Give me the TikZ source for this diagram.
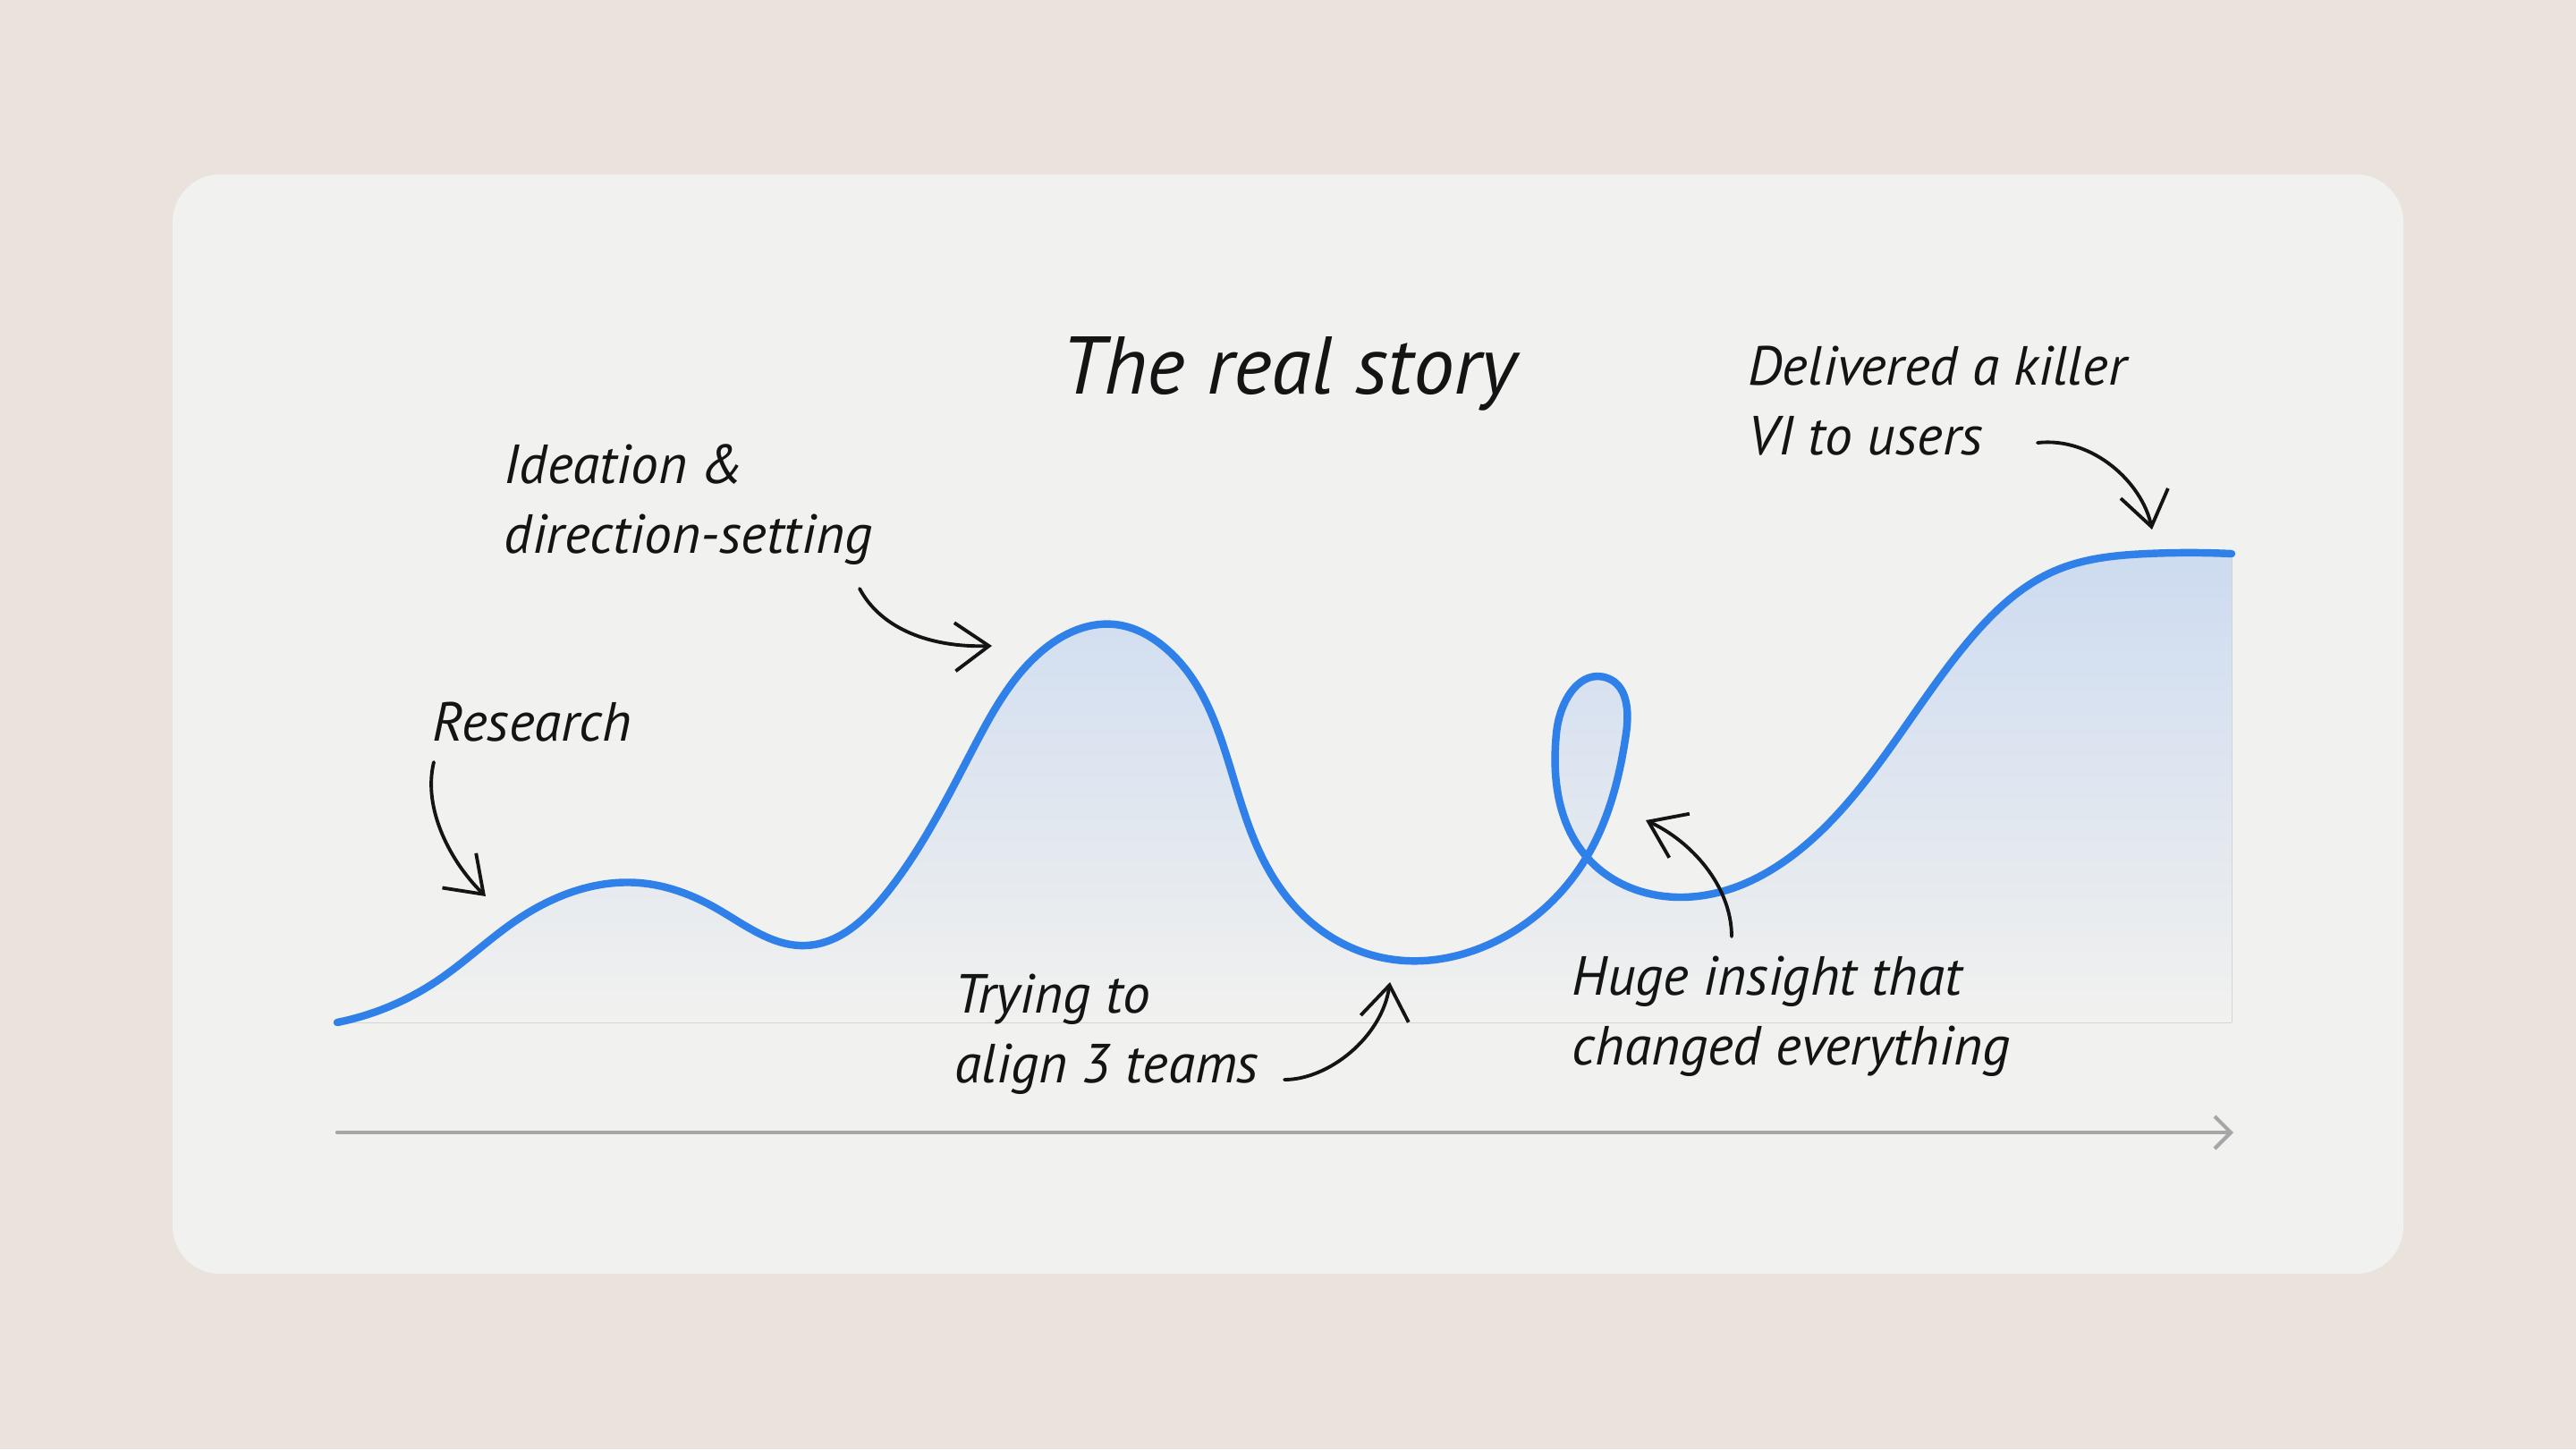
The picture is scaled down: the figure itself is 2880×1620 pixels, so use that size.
\documentclass[tikz,border=0pt]{standalone}
\usepackage{fontspec}
\setmainfont{PT Sans}
\usetikzlibrary{arrows.meta, positioning, calc, hobby}
\definecolor{pagebg}{HTML}{E9E2DD}
\definecolor{cardbg}{HTML}{F1F1EF}
\definecolor{storyblue}{HTML}{3080EA}
\definecolor{storyfill}{HTML}{CDDBF0}
\definecolor{axisgray}{HTML}{A6A6A6}
\definecolor{inkblack}{HTML}{141414}
\tikzset{
  storyline/.style={
    draw=storyblue, line width=2.4pt, line cap=round, line join=round
  },
  storyarea/.style={
    top color=storyfill, bottom color=cardbg, draw=none
  },
  storytitle/.style={
    font=\fontsize{26}{30}\selectfont\itshape, text=inkblack, inner sep=0pt
  },
  storynote/.style={
    font=\fontsize{17.5}{22}\selectfont\itshape, text=inkblack,
    align=left, inner sep=0pt, anchor=base west
  },
  pointer/.style={
    -{Straight Barb[length=3.8mm, width=5.4mm]}, line width=1.1pt,
    draw=inkblack, line cap=round
  },
  timeline/.style={
    -{Straight Barb[length=1.8mm, width=3.6mm]}, line width=1.2pt,
    draw=axisgray, line cap=round
  }
}

\begin{document}
\begin{tikzpicture}[x=0.01cm, y=-0.01cm]

  % Page and card
  \useasboundingbox (0,0) rectangle (2880,1620);
  \fill[pagebg] (0,0) rectangle (2880,1620);
  \fill[cardbg, rounded corners=0.53cm] (193,195) rectangle (2687,1424);

  % Area under the story curve
  \fill[storyarea] (377,1143) to[curve through={
    (488,1097) (580,1027) (715,987) (800,1015) (901,1057) (990,1000)
    (1090,833) (1160,732) (1246,698) (1300,722) (1407,950) (1468,1033)
    (1560,1073) (1662,1057) (1774,958) (1818,820) (1797,758) (1740,820)
    (1773,957) (1880,1003) (2045,920) (2198,720) (2300,637) (2400,619)
  }] (2495,619) -- (2495,1143) -- cycle;

  % Story curve
  \draw[storyline] (377,1143) to[curve through={
    (488,1097) (580,1027) (715,987) (800,1015) (901,1057) (990,1000)
    (1090,833) (1160,732) (1246,698) (1300,722) (1407,950) (1468,1033)
    (1560,1073) (1662,1057) (1774,958) (1818,820) (1797,758) (1740,820)
    (1773,957) (1880,1003) (2045,920) (2198,720) (2300,637) (2400,619)
  }] (2495,619);

  % Time axis
  \coordinate (axisstart) at (377,1266);
  \coordinate (axisend) at (2497,1266);
  \draw[timeline] (axisstart) -- (axisend);

  % Title and notes (base = last line)
  \node[storytitle, anchor=base] (title) at (1441,440) {The real story};
  \node[storynote] (research) at (483,828) {Research};
  \node[storynote] (ideation) at (563,618) {Ideation \&\\direction-setting};
  \node[storynote] (trying) at (1067,1210) {Trying to\\align 3 teams};
  \node[storynote] (insight) at (1757,1190) {Huge insight that\\changed everything};
  \node[storynote] (delivered) at (1954,508) {Delivered a killer\\VI to users};

  % Pointer ends
  \coordinate (researchtail) at (485,852);
  \coordinate (researchtip) at (543,1002);
  \coordinate (ideationtail) at (961,658);
  \coordinate (ideationtip) at (1109,722);
  \coordinate (tryingtail) at (1436,1207);
  \coordinate (tryingtip) at (1554,1098);
  \coordinate (insighttail) at (1936,1047);
  \coordinate (insighttip) at (1840,917);
  \coordinate (deliveredtail) at (2278,495);
  \coordinate (deliveredtip) at (2406,592);

  % Pointers
  \draw[pointer] (researchtail) .. controls (472,905) and (505,965) .. (researchtip);
  \draw[pointer] (ideationtail) .. controls (985,703) and (1040,724) .. (ideationtip);
  \draw[pointer] (tryingtail) .. controls (1485,1207) and (1545,1160) .. (tryingtip);
  \draw[pointer] (insighttail) .. controls (1936,990) and (1890,940) .. (insighttip);
  \draw[pointer] (deliveredtail) .. controls (2340,488) and (2395,540) .. (deliveredtip);

\end{tikzpicture}
\end{document}
